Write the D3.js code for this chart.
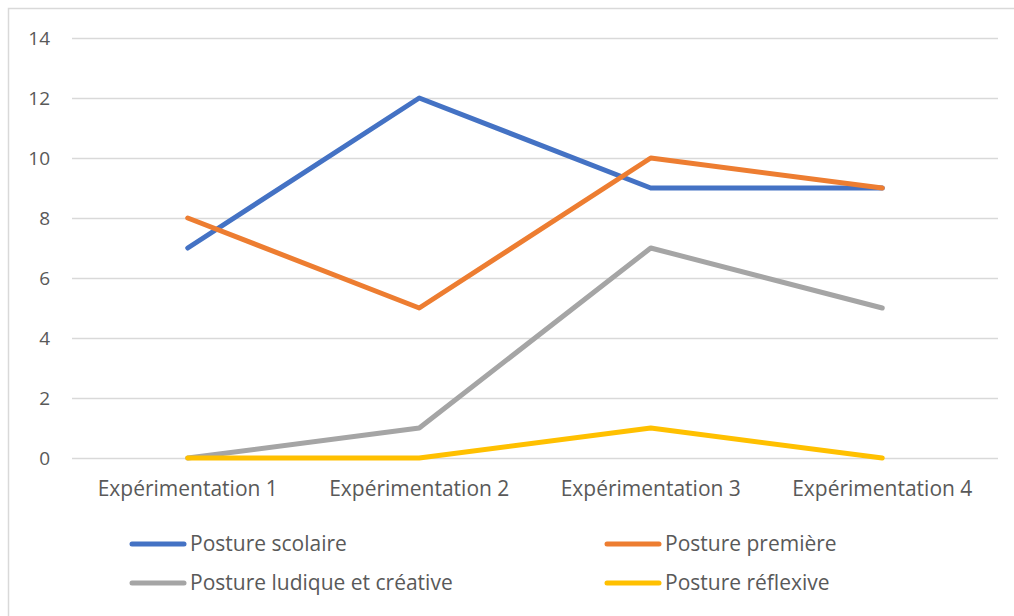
<!DOCTYPE html>
<html>
<head>
<meta charset="utf-8">
<script src="https://cdn.jsdelivr.net/npm/d3@7"></script>
<style>
  body { margin: 0; background: #fff; }
  svg { display: block; font-family: "Open Sans", sans-serif; }
</style>
</head>
<body>
<svg id="chart" width="1014" height="616"></svg>
<script>
// Chart data.
var categories = ["Expérimentation 1", "Expérimentation 2", "Expérimentation 3", "Expérimentation 4"];
var seriesNames = ["Posture scolaire", "Posture première", "Posture ludique et créative", "Posture réflexive"];
var scolaire = [7, 12, 9, 9];
var premiere = [8, 5, 10, 9];
var ludique = [0, 1, 7, 5];
var reflexive = [0, 0, 1, 0];
var yTicks = [0, 2, 4, 6, 8, 10, 12, 14];
var colors = ["#4472C4", "#ED7D31", "#A5A5A5", "#FFC000"];

var FONT_SIZE = "21px";

var series = [scolaire, premiere, ludique, reflexive].map(function(values, i) {
  return { name: seriesNames[i], values: values, color: colors[i] };
});

var svg = d3.select("#chart"),
    width = +svg.attr("width"),
    height = +svg.attr("height");

// Plot area bounds.
var plotLeft = 72, plotRight = 998, plotTop = 38, plotBottom = 458;

// Outer chart border (only top and left edges are visible in the frame).
svg.append("rect")
  .attr("x", 8.5).attr("y", 8.5)
  .attr("width", width + 10).attr("height", height + 10)
  .attr("fill", "none")
  .attr("stroke", "#D9D9D9")
  .attr("stroke-width", 1.5);

var x = d3.scaleBand().domain(categories).range([plotLeft, plotRight]);
var y = d3.scaleLinear().domain([0, 14]).range([plotBottom, plotTop]);

// Horizontal gridlines.
svg.append("g")
  .selectAll("line")
  .data(yTicks)
  .enter().append("line")
  .attr("x1", plotLeft).attr("x2", plotRight)
  .attr("y1", function(d) { return Math.round(y(d)) + 0.5; })
  .attr("y2", function(d) { return Math.round(y(d)) + 0.5; })
  .attr("stroke", "#D9D9D9")
  .attr("stroke-width", 1.5);

// Y axis labels.
var yAxis = d3.axisLeft(y).tickValues(yTicks).tickSize(0).tickPadding(0);
var gy = svg.append("g")
  .attr("transform", "translate(" + 50 + ",0)")
  .call(yAxis);
gy.select(".domain").remove();
gy.selectAll("text")
  .attr("fill", "#595959")
  .style("font-size", "19px")
  .style("font-family", "'Open Sans', sans-serif");

// X axis labels.
var xAxis = d3.axisBottom(x).tickSize(0).tickPadding(0);
var gx = svg.append("g")
  .attr("transform", "translate(0," + (plotBottom + 23) + ")")
  .call(xAxis);
gx.select(".domain").remove();
gx.selectAll("text")
  .attr("fill", "#595959")
  .style("font-size", FONT_SIZE)
  .style("font-family", "'Open Sans', sans-serif");

// Series lines.
var line = d3.line()
  .x(function(d, i) { return x(categories[i]) + x.bandwidth() / 2; })
  .y(function(d) { return y(d); });

svg.append("g")
  .selectAll("path")
  .data(series)
  .enter().append("path")
  .attr("d", function(d) { return line(d.values); })
  .attr("fill", "none")
  .attr("stroke", function(d) { return d.color; })
  .attr("stroke-width", 5)
  .attr("stroke-linecap", "round")
  .attr("stroke-linejoin", "round");

// Legend: two columns, two rows.
var legend = svg.append("g")
  .selectAll("g")
  .data(series)
  .enter().append("g")
  .attr("transform", function(d, i) {
    var lx = (i % 2 === 0) ? 132 : 607;
    var ly = (i < 2) ? 544 : 583;
    return "translate(" + lx + "," + ly + ")";
  });

legend.append("line")
  .attr("x1", 0).attr("x2", 52)
  .attr("y1", 0).attr("y2", 0)
  .attr("stroke", function(d) { return d.color; })
  .attr("stroke-width", 5)
  .attr("stroke-linecap", "round");

legend.append("text")
  .attr("x", 58)
  .attr("y", 0)
  .attr("dy", "0.35em")
  .attr("fill", "#595959")
  .style("font-size", FONT_SIZE)
  .text(function(d) { return d.name; });
</script>
</body>
</html>
